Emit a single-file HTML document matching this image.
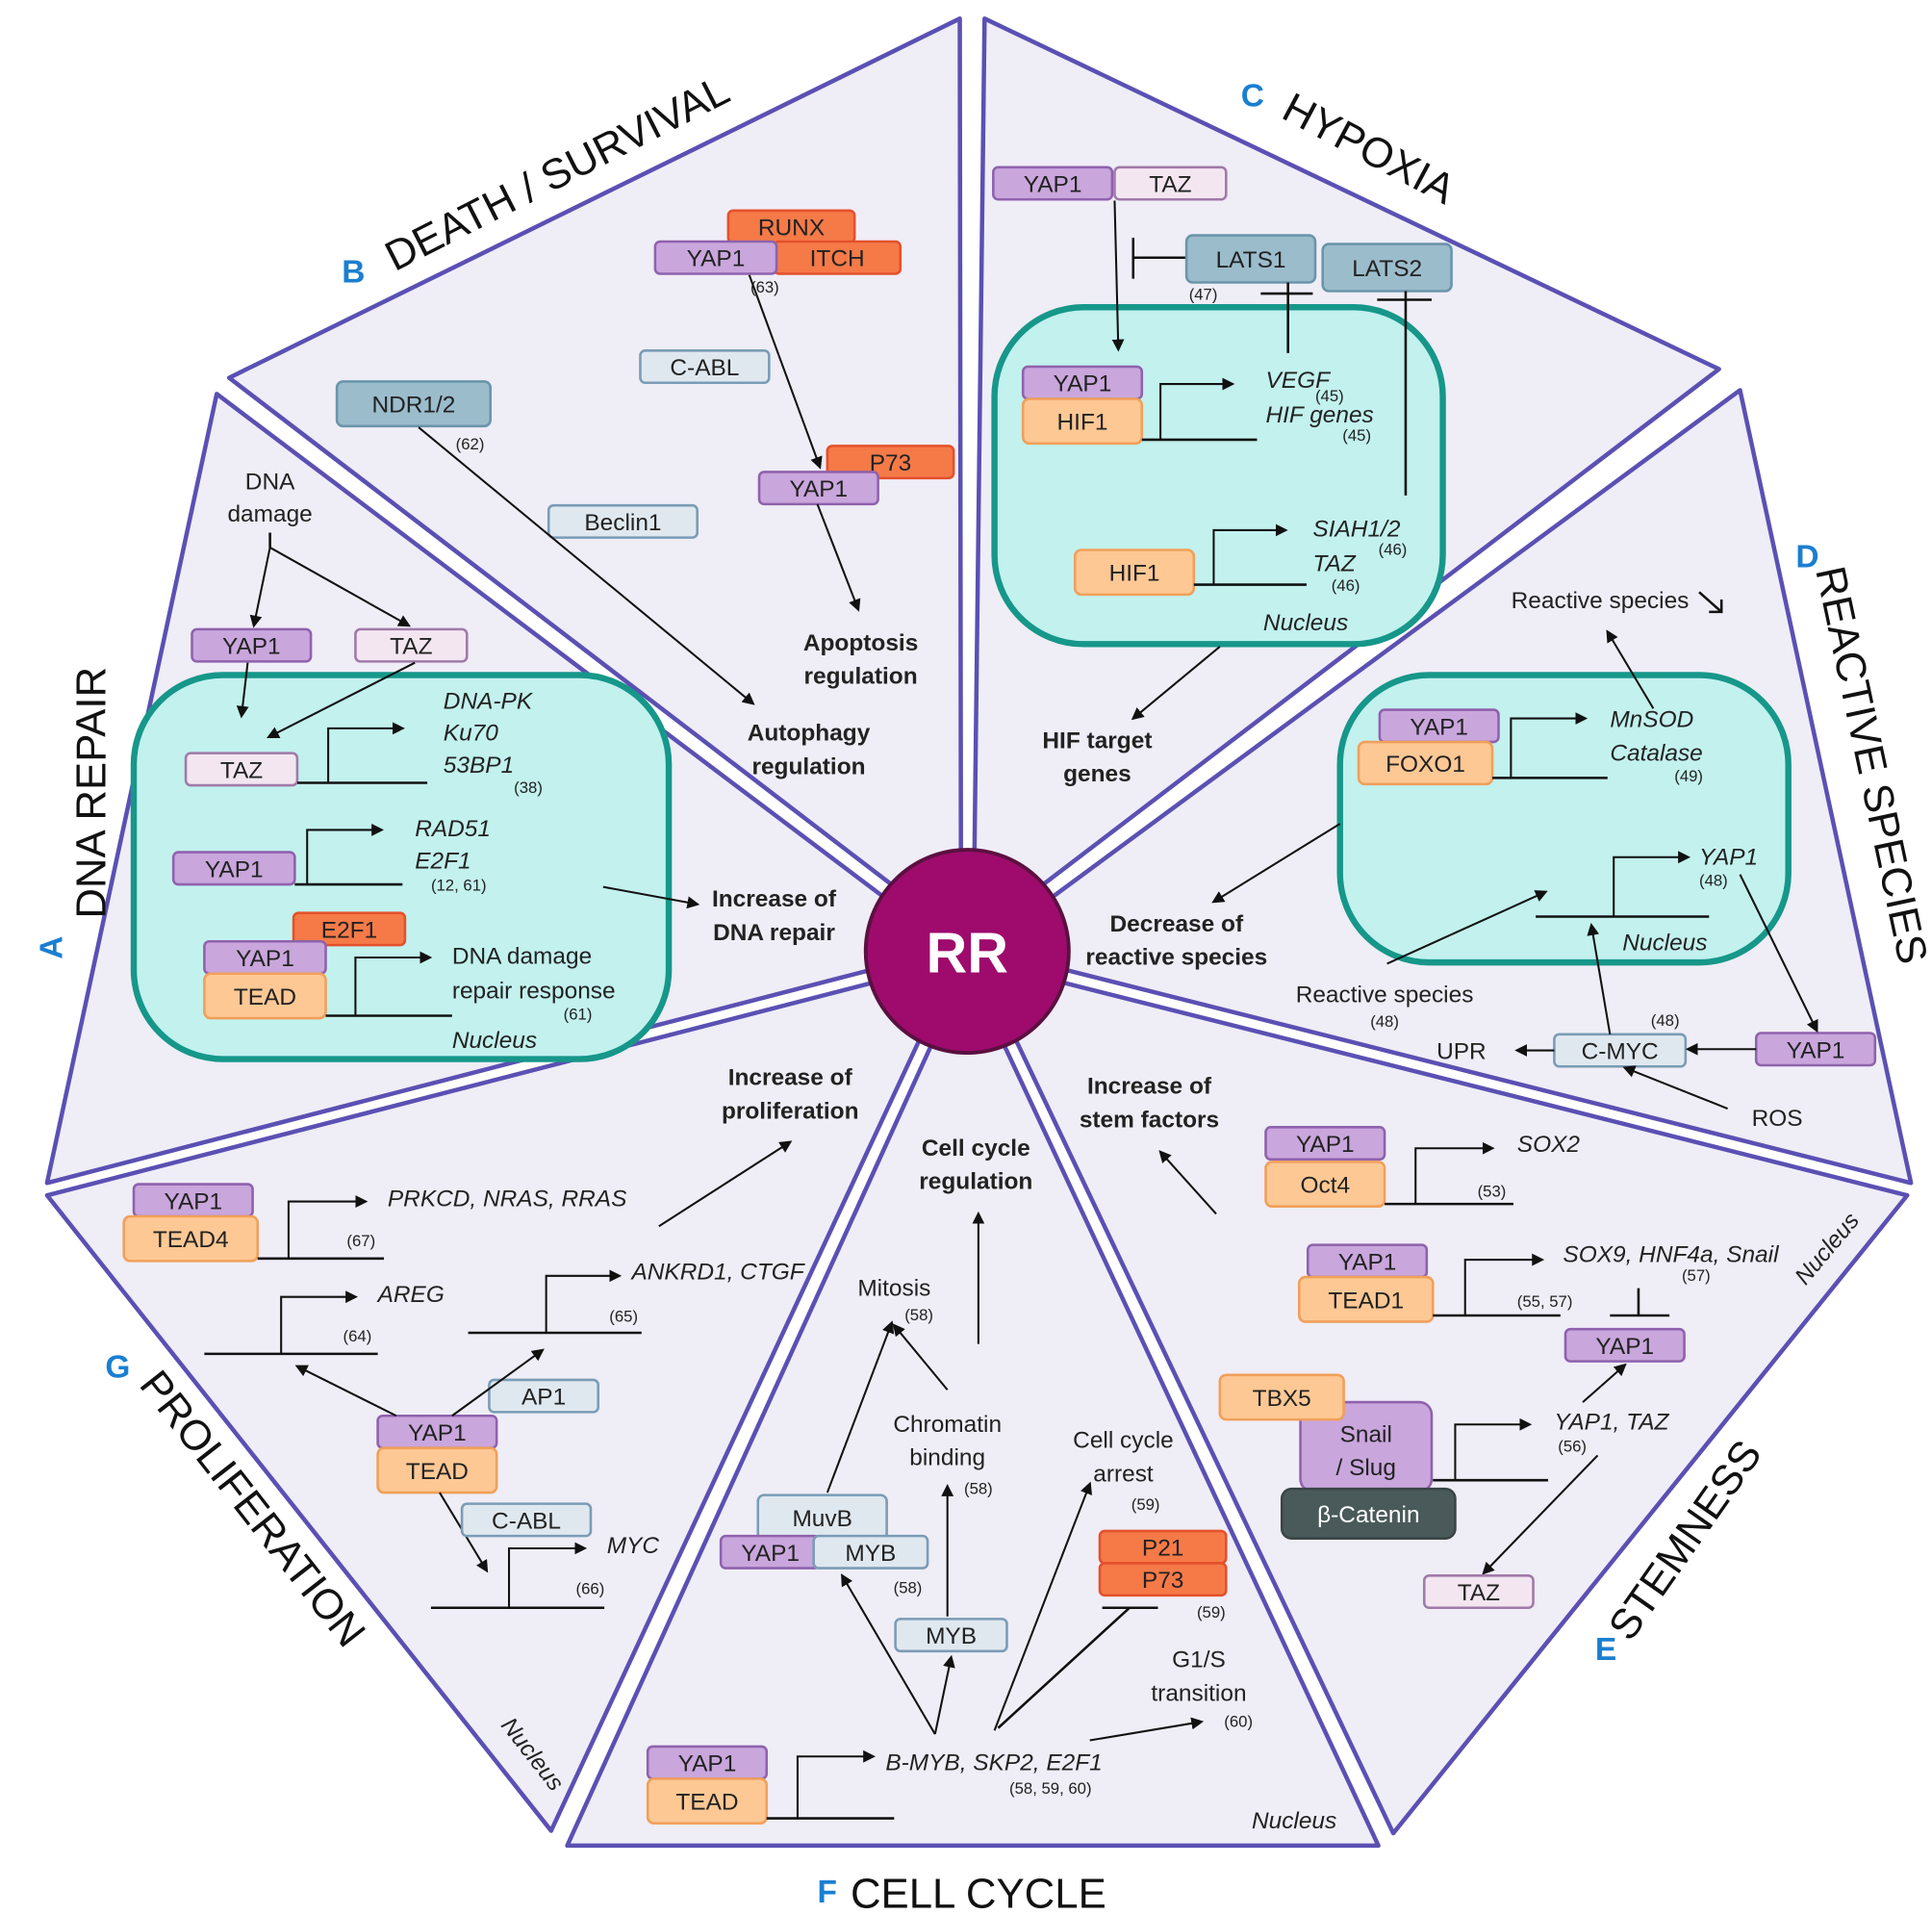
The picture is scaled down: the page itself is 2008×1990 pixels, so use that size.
<!DOCTYPE html>
<html><head><meta charset="utf-8"><style>
html,body{margin:0;padding:0;background:#fff}
svg{display:block}
text{font-family:"Liberation Sans",sans-serif;font-size:19px;fill:#222}
.it{font-style:italic}
.b{font-weight:bold}
.s{font-size:13px}
.c{text-anchor:middle}
.bl{fill:#1a7fd0;font-size:26px;font-weight:bold}
.big{font-size:34px;fill:#111}
.y{fill:#c9a6dc;stroke:#8f62ad;stroke-width:2}
.t{fill:#f3e6f1;stroke:#a07aa8;stroke-width:2}
.o{fill:#fdc894;stroke:#f0a05a;stroke-width:2}
.r{fill:#f57a48;stroke:#e4502c;stroke-width:2}
.g{fill:#9bbccb;stroke:#6a95ab;stroke-width:2}
.l{fill:#e0e8ef;stroke:#7a9cb6;stroke-width:2}
.n{fill:#c2f1ee;stroke:#16978a;stroke-width:5}
.tri{fill:#efedf6;stroke:#5b50b3;stroke-width:3.5;stroke-linejoin:round}
.ln{stroke:#111;stroke-width:2;fill:none}
.a{stroke:#111;stroke-width:1.6;fill:none;marker-end:url(#ar)}
</style></head><body>
<svg width="2008" height="1990" viewBox="0 0 1560 1546" xmlns="http://www.w3.org/2000/svg">
<defs><marker id="ar" markerWidth="10" markerHeight="10" refX="8" refY="5" orient="auto" markerUnits="userSpaceOnUse" viewBox="0 0 10 10"><path d="M0,0 L10,5 L0,10 z" fill="#111"/></marker></defs>
<rect width="1560" height="1546" fill="#fff"/>
<!-- triangles -->
<polygon class="tri" points="769,766 175,318 38,955"/>
<polygon class="tri" points="776,757 185,305 775,15"/>
<polygon class="tri" points="786,757 795,15 1388,298"/>
<polygon class="tri" points="793,766 1405,315 1543,955"/>
<polygon class="tri" points="790,776 1540,965 1125,1480"/>
<polygon class="tri" points="781,780 1113,1490 458,1490"/>
<polygon class="tri" points="772,776 445,1478 38,965"/>
<circle cx="781" cy="768" r="82" fill="#9e0b6c" stroke="#5a1040" stroke-width="3"/>
<text x="781" y="785" class="c b" style="font-size:46px;fill:#fff">RR</text>

<!-- section titles -->
<text class="big" transform="translate(85,640) rotate(-90)" text-anchor="middle">DNA REPAIR</text>
<text class="bl" transform="translate(50,765) rotate(-90)" text-anchor="middle">A</text>
<text class="big" transform="translate(455,150) rotate(-27)" text-anchor="middle">DEATH / SURVIVAL</text>
<text class="bl" x="276" y="228">B</text>
<text class="big" transform="translate(1100,130) rotate(28)" text-anchor="middle">HYPOXIA</text>
<text class="bl" x="1002" y="86">C</text>
<text class="big" transform="translate(1500,620) rotate(78)" text-anchor="middle">REACTIVE SPECIES</text>
<text class="bl" x="1450" y="458">D</text>
<text class="big" transform="translate(1370,1250) rotate(-55)" text-anchor="middle">STEMNESS</text>
<text class="bl" x="1288" y="1340">E</text>
<text class="big" x="790" y="1540" text-anchor="middle">CELL CYCLE</text>
<text class="bl" x="660" y="1536">F</text>
<text class="big" transform="translate(195,1225) rotate(52)" text-anchor="middle">PROLIFERATION</text>
<text class="bl" x="85" y="1112">G</text>

<!-- A -->
<text x="218" y="395" class="c">DNA</text><text x="218" y="421" class="c">damage</text>
<path class="ln" d="M218,430 V442"/>
<path class="a" d="M218,442 L205,505"/><path class="a" d="M218,442 L330,505"/>
<rect class="y" x="155" y="508" width="96" height="26" rx="4"/><text x="203" y="528" class="c">YAP1</text>
<rect class="t" x="287" y="508" width="90" height="26" rx="4"/><text x="332" y="528" class="c">TAZ</text>
<rect class="n" x="108" y="545" width="432" height="310" rx="72"/>
<path class="a" d="M200,535 L195,578"/><path class="a" d="M335,535 L217,595"/>
<rect class="t" x="150" y="608" width="90" height="26" rx="4"/><text x="195" y="628" class="c">TAZ</text>
<path class="ln" d="M240,632 H345"/><path class="a" d="M265,632 V588 H325"/>
<text x="358" y="572" class="it">DNA-PK</text><text x="358" y="598" class="it">Ku70</text><text x="358" y="624" class="it">53BP1</text><text x="415" y="640" class="s">(38)</text>
<rect class="y" x="140" y="688" width="98" height="26" rx="4"/><text x="189" y="708" class="c">YAP1</text>
<path class="ln" d="M238,714 H325"/><path class="a" d="M248,714 V670 H308"/>
<text x="335" y="675" class="it">RAD51</text><text x="335" y="701" class="it">E2F1</text><text x="348" y="719" class="s">(12, 61)</text>
<rect class="r" x="237" y="737" width="90" height="26" rx="4"/><text x="282" y="757" class="c">E2F1</text>
<rect class="y" x="165" y="760" width="98" height="26" rx="4"/><text x="214" y="780" class="c">YAP1</text>
<rect class="o" x="165" y="786" width="98" height="36" rx="5"/><text x="214" y="811" class="c">TEAD</text>
<path class="ln" d="M263,820 H365"/><path class="a" d="M287,820 V773 H347"/>
<text x="365" y="778">DNA damage</text><text x="365" y="806">repair response</text><text x="455" y="823" class="s">(61)</text>
<text x="365" y="846" class="it">Nucleus</text>
<path class="a" d="M487,716 L563,730"/>
<text x="625" y="732" class="c b">Increase of</text><text x="625" y="759" class="c b">DNA repair</text>

<!-- B -->
<rect class="r" x="588" y="170" width="102" height="26" rx="4"/><text x="639" y="190" class="c">RUNX</text>
<rect class="r" x="625" y="195" width="102" height="26" rx="4"/><text x="676" y="215" class="c">ITCH</text>
<rect class="y" x="529" y="195" width="98" height="26" rx="4"/><text x="578" y="215" class="c">YAP1</text>
<text x="606" y="236" class="s">(63)</text>
<rect class="l" x="517" y="283" width="104" height="26" rx="4"/><text x="569" y="303" class="c">C-ABL</text>
<rect class="g" x="272" y="308" width="124" height="36" rx="5"/><text x="334" y="333" class="c">NDR1/2</text>
<text x="368" y="363" class="s">(62)</text>
<rect class="l" x="443" y="408" width="120" height="26" rx="4"/><text x="503" y="428" class="c">Beclin1</text>
<rect class="r" x="668" y="360" width="102" height="26" rx="4"/><text x="719" y="380" class="c">P73</text>
<rect class="y" x="613" y="381" width="96" height="26" rx="4"/><text x="661" y="401" class="c">YAP1</text>
<path class="a" d="M605,222 L662,377"/><path class="a" d="M660,407 L693,492"/>
<text x="695" y="525" class="c b">Apoptosis</text><text x="695" y="552" class="c b">regulation</text>
<path class="a" d="M338,345 L608,568"/>
<text x="653" y="598" class="c b">Autophagy</text><text x="653" y="625" class="c b">regulation</text>

<!-- C -->
<rect class="y" x="802" y="135" width="96" height="26" rx="4"/><text x="850" y="155" class="c">YAP1</text>
<rect class="t" x="900" y="135" width="90" height="26" rx="4"/><text x="945" y="155" class="c">TAZ</text>
<path class="ln" d="M960,208 H915 M915,192 V225"/>
<rect class="g" x="958" y="190" width="104" height="38" rx="5"/><text x="1010" y="216" class="c">LATS1</text>
<rect class="g" x="1068" y="197" width="104" height="38" rx="5"/><text x="1120" y="223" class="c">LATS2</text>
<text x="960" y="242" class="s">(47)</text>
<rect class="n" x="803" y="248" width="362" height="272" rx="72"/>
<path class="a" d="M900,162 L903,282"/>
<path class="ln" d="M1018,237 H1060 M1040,228 V285"/>
<path class="ln" d="M1112,242 H1156 M1135,235 V400"/>
<rect class="y" x="826" y="296" width="96" height="26" rx="4"/><text x="874" y="316" class="c">YAP1</text>
<rect class="o" x="826" y="322" width="96" height="36" rx="5"/><text x="874" y="347" class="c">HIF1</text>
<path class="ln" d="M922,355 H1015"/><path class="a" d="M937,355 V310 H995"/>
<text x="1022" y="313" class="it">VEGF</text><text x="1062" y="324" class="s">(45)</text>
<text x="1022" y="341" class="it">HIF genes</text><text x="1084" y="356" class="s">(45)</text>
<rect class="o" x="868" y="444" width="96" height="36" rx="5"/><text x="916" y="469" class="c">HIF1</text>
<path class="ln" d="M964,472 H1055"/><path class="a" d="M980,472 V428 H1038"/>
<text x="1060" y="433" class="it">SIAH1/2</text><text x="1113" y="448" class="s">(46)</text>
<text x="1060" y="461" class="it">TAZ</text><text x="1075" y="477" class="s">(46)</text>
<text x="1020" y="509" class="it">Nucleus</text>
<path class="a" d="M985,522 L915,580"/>
<text x="886" y="604" class="c b">HIF target</text><text x="886" y="631" class="c b">genes</text>

<!-- D -->
<text x="1292" y="491" class="c">Reactive species</text>
<path class="ln" d="M1372,478 L1390,494 M1380,494 H1390 V484"/>
<rect class="n" x="1082" y="545" width="362" height="232" rx="72"/>
<rect class="y" x="1114" y="573" width="96" height="26" rx="4"/><text x="1162" y="593" class="c">YAP1</text>
<rect class="o" x="1097" y="599" width="108" height="34" rx="5"/><text x="1151" y="623" class="c">FOXO1</text>
<path class="ln" d="M1205,628 H1298"/><path class="a" d="M1220,628 V580 H1280"/>
<text x="1300" y="587" class="it">MnSOD</text><text x="1300" y="614" class="it">Catalase</text><text x="1352" y="631" class="s">(49)</text>
<path class="a" d="M1335,572 L1298,510"/>
<path class="ln" d="M1240,740 H1380"/><path class="a" d="M1303,740 V692 H1363"/>
<text x="1372" y="698" class="it">YAP1</text><text x="1372" y="715" class="s">(48)</text>
<text x="1310" y="767" class="it">Nucleus</text>
<path class="a" d="M1082,665 L980,728"/>
<text x="950" y="752" class="c b">Decrease of</text><text x="950" y="779" class="c b">reactive species</text>
<path class="a" d="M1120,778 L1248,720"/>
<text x="1118" y="809" class="c">Reactive species</text><text x="1118" y="829" class="c s">(48)</text>
<rect class="y" x="1418" y="834" width="96" height="26" rx="4"/><text x="1466" y="854" class="c">YAP1</text>
<path class="a" d="M1405,706 L1467,832"/>
<rect class="l" x="1255" y="835" width="106" height="26" rx="4"/><text x="1308" y="855" class="c">C-MYC</text>
<path class="a" d="M1418,847 L1363,847"/><path class="a" d="M1255,848 L1225,848"/>
<text x="1180" y="855" class="c">UPR</text><text x="1333" y="828" class="s">(48)</text>
<path class="a" d="M1300,835 L1285,747"/>
<text x="1435" y="909" class="c">ROS</text><path class="a" d="M1395,895 L1312,862"/>

<!-- E -->
<rect class="y" x="1022" y="910" width="96" height="26" rx="4"/><text x="1070" y="930" class="c">YAP1</text>
<rect class="o" x="1022" y="938" width="96" height="36" rx="5"/><text x="1070" y="963" class="c">Oct4</text>
<path class="ln" d="M1118,972 H1222"/><path class="a" d="M1143,972 V927 H1205"/>
<text x="1225" y="930" class="it">SOX2</text><text x="1193" y="966" class="s">(53)</text>
<path class="a" d="M982,980 L937,930"/>
<text x="928" y="883" class="c b">Increase of</text><text x="928" y="910" class="c b">stem factors</text>
<rect class="y" x="1056" y="1005" width="96" height="26" rx="4"/><text x="1104" y="1025" class="c">YAP1</text>
<rect class="o" x="1049" y="1031" width="108" height="36" rx="5"/><text x="1103" y="1056" class="c">TEAD1</text>
<path class="ln" d="M1157,1062 H1260"/><path class="a" d="M1183,1062 V1017 H1245"/>
<text x="1262" y="1019" class="it">SOX9, HNF4a, Snail</text><text x="1358" y="1034" class="s">(57)</text><text x="1225" y="1055" class="s">(55, 57)</text>
<text class="it" transform="translate(1480,1012) rotate(-50)" text-anchor="middle">Nucleus</text>
<path class="ln" d="M1323,1040 V1062 M1300,1062 H1348"/>
<rect class="y" x="1264" y="1073" width="96" height="26" rx="4"/><text x="1312" y="1093" class="c">YAP1</text>
<rect class="y" x="1050" y="1132" width="106" height="72" rx="10"/><text x="1103" y="1164" class="c">Snail</text><text x="1103" y="1191" class="c">/ Slug</text>
<rect class="o" x="985" y="1110" width="100" height="36" rx="5"/><text x="1035" y="1135" class="c">TBX5</text>
<rect x="1035" y="1202" width="140" height="40" rx="8" fill="#4a5a5a" stroke="#3a4646" stroke-width="2"/><text x="1105" y="1229" class="c" style="fill:#fff">β-Catenin</text>
<path class="ln" d="M1157,1195 H1250"/><path class="a" d="M1175,1195 V1150 H1235"/>
<text x="1255" y="1154" class="it">YAP1, TAZ</text><text x="1258" y="1172" class="s">(56)</text>
<path class="a" d="M1278,1132 L1312,1102"/><path class="a" d="M1290,1175 L1198,1270"/>
<rect class="t" x="1150" y="1272" width="88" height="26" rx="4"/><text x="1194" y="1292" class="c">TAZ</text>

<!-- F -->
<text x="788" y="933" class="c b">Cell cycle</text><text x="788" y="960" class="c b">regulation</text>
<path class="a" d="M790,1085 L790,980"/>
<text x="722" y="1046" class="c">Mitosis</text><text x="742" y="1066" class="c s">(58)</text>
<path class="a" d="M668,1205 L720,1068"/><path class="a" d="M765,1122 L722,1070"/>
<text x="765" y="1156" class="c">Chromatin</text><text x="765" y="1183" class="c">binding</text><text x="790" y="1206" class="c s">(58)</text>
<path class="a" d="M765,1305 L765,1200"/>
<rect class="l" x="612" y="1207" width="104" height="36" rx="5"/><text x="664" y="1232" class="c">MuvB</text>
<rect class="y" x="582" y="1240" width="80" height="26" rx="4"/><text x="622" y="1260" class="c">YAP1</text>
<rect class="l" x="657" y="1240" width="92" height="26" rx="4"/><text x="703" y="1260" class="c">MYB</text>
<text x="733" y="1286" class="c s">(58)</text>
<rect class="l" x="723" y="1307" width="90" height="26" rx="4"/><text x="768" y="1327" class="c">MYB</text>
<text x="907" y="1169" class="c">Cell cycle</text><text x="907" y="1196" class="c">arrest</text><text x="925" y="1219" class="c s">(59)</text>
<rect class="r" x="888" y="1236" width="102" height="26" rx="4"/><text x="939" y="1256" class="c">P21</text>
<rect class="r" x="888" y="1262" width="102" height="26" rx="4"/><text x="939" y="1282" class="c">P73</text>
<path class="ln" d="M890,1298 H935 M912,1298 L806,1395"/>
<text x="978" y="1306" class="c s">(59)</text>
<text x="968" y="1346" class="c">G1/S</text><text x="968" y="1373" class="c">transition</text><text x="1000" y="1394" class="c s">(60)</text>
<rect class="y" x="523" y="1410" width="96" height="26" rx="4"/><text x="571" y="1430" class="c">YAP1</text>
<rect class="o" x="523" y="1436" width="96" height="36" rx="5"/><text x="571" y="1461" class="c">TEAD</text>
<path class="ln" d="M619,1468 H722"/><path class="a" d="M644,1468 V1418 H705"/>
<text x="715" y="1429" class="it">B-MYB, SKP2, E2F1</text><text x="815" y="1448" class="s">(58, 59, 60)</text>
<path class="a" d="M755,1400 L680,1272"/><path class="a" d="M755,1400 L768,1338"/>
<path class="a" d="M803,1397 L880,1198"/><path class="a" d="M880,1405 L970,1390"/>
<text x="1045" y="1476" class="c it">Nucleus</text>

<!-- G -->
<text x="638" y="876" class="c b">Increase of</text><text x="638" y="903" class="c b">proliferation</text>
<path class="a" d="M532,990 L638,922"/>
<rect class="y" x="108" y="956" width="96" height="26" rx="4"/><text x="156" y="976" class="c">YAP1</text>
<rect class="o" x="100" y="982" width="108" height="36" rx="5"/><text x="154" y="1007" class="c">TEAD4</text>
<path class="ln" d="M208,1016 H310"/><path class="a" d="M233,1016 V970 H295"/>
<text x="313" y="974" class="it">PRKCD, NRAS, RRAS</text><text x="280" y="1006" class="s">(67)</text>
<path class="ln" d="M165,1093 H305"/><path class="a" d="M227,1093 V1047 H287"/>
<text x="305" y="1051" class="it">AREG</text><text x="277" y="1083" class="s">(64)</text>
<path class="ln" d="M378,1076 H518"/><path class="a" d="M441,1076 V1030 H500"/>
<text x="510" y="1033" class="it">ANKRD1, CTGF</text><text x="492" y="1067" class="s">(65)</text>
<rect class="l" x="395" y="1114" width="88" height="26" rx="4"/><text x="439" y="1134" class="c">AP1</text>
<rect class="y" x="305" y="1143" width="96" height="26" rx="4"/><text x="353" y="1163" class="c">YAP1</text>
<rect class="o" x="305" y="1169" width="96" height="36" rx="5"/><text x="353" y="1194" class="c">TEAD</text>
<path class="a" d="M365,1143 L438,1090"/><path class="a" d="M320,1143 L240,1103"/><path class="a" d="M355,1205 L393,1268"/>
<rect class="l" x="373" y="1214" width="104" height="26" rx="4"/><text x="425" y="1234" class="c">C-ABL</text>
<path class="ln" d="M348,1298 H488"/><path class="a" d="M411,1298 V1250 H472"/>
<text x="490" y="1254" class="it">MYC</text><text x="465" y="1287" class="s">(66)</text>
<text class="it" transform="translate(425,1420) rotate(52)" text-anchor="middle">Nucleus</text>
</svg>
</body></html>
